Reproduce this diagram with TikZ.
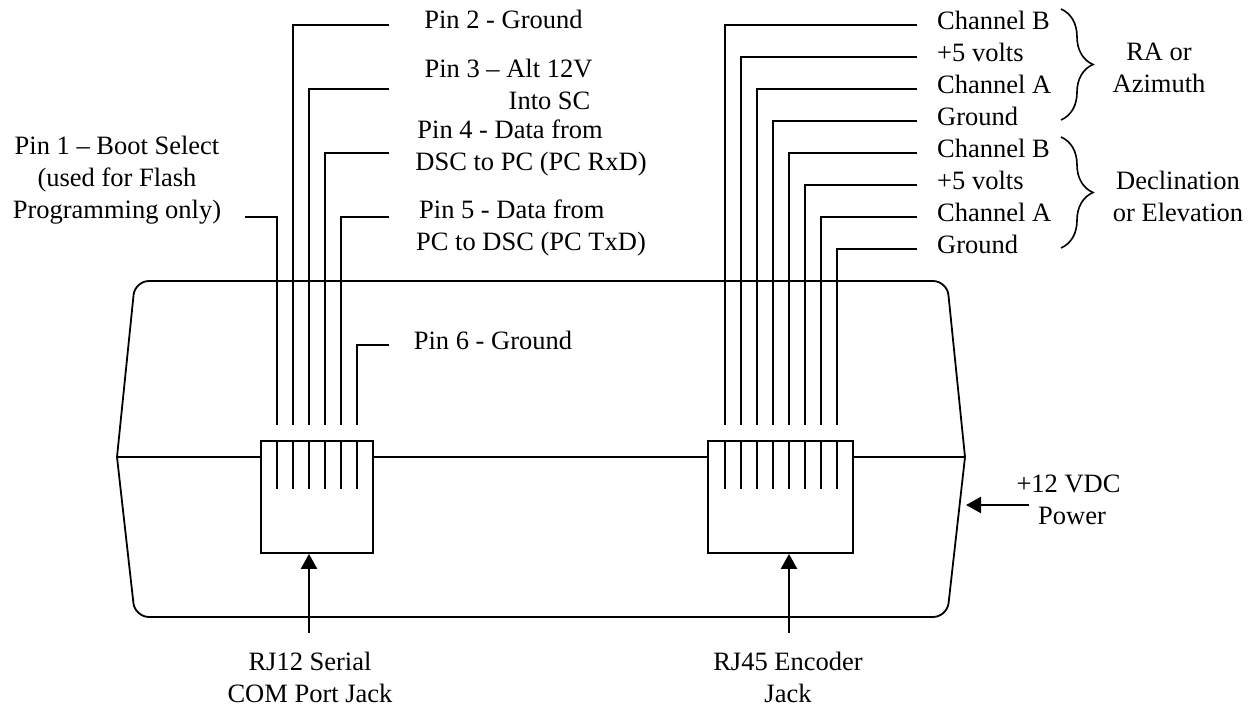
\documentclass[tikz,border=0pt]{standalone}
\usepackage{fontspec}
\setmainfont{Liberation Serif}
\usetikzlibrary{positioning, arrows.meta, decorations.pathreplacing}
\tikzset{
  pinlabel/.style={
    inner sep=0pt,
    font=\fontsize{26.5}{32}\selectfont
  },
  jack/.style={
    draw,
    rectangle,
    line width=1.8pt,
    minimum height=112pt,
    inner sep=0pt
  },
  wire/.style={
    line width=1.8pt
  },
  pointer/.style={
    line width=2.4pt,
    -{Triangle[length=15pt,width=16pt]}
  },
  curly/.style={
    line width=1.6pt,
    decorate,
    decoration={brace,amplitude=32pt}
  }
}

\begin{document}
\begin{tikzpicture}[x=1pt, y=-1pt]
    \useasboundingbox (0,0) rectangle (1249,707);

    % housing
    \coordinate (bodyleft) at (117,457);
    \coordinate (bodyright) at (965,457);
    \draw[wire] (bodyleft) [rounded corners=14pt] -- (135,281) -- (947,281) [sharp corners] -- (bodyright) [rounded corners=14pt] -- (947,617) -- (135,617) [sharp corners] -- (bodyleft);

    % jacks
    \node[jack, minimum width=112pt] (rjtwelve) at (317,497) {};
    \node[jack, minimum width=145pt] (rjfortyfive) at (780.5,497) {};
    \draw[wire] (bodyleft) -- (bodyleft -| rjtwelve.west);
    \draw[wire] (rjtwelve.east |- bodyleft) -- (bodyleft -| rjfortyfive.west);
    \draw[wire] (rjfortyfive.east |- bodyleft) -- (bodyright);

    % contacts of the RJ12 jack
    \coordinate (pa) at (277,489);
    \coordinate (pb) at (293,489);
    \coordinate (pc) at (309,489);
    \coordinate (pd) at (325,489);
    \coordinate (pe) at (341,489);
    \coordinate (pf) at (357,489);
    \draw[wire] (pa) -- (pa |- rjtwelve.north);
    \draw[wire] (pb) -- (pb |- rjtwelve.north);
    \draw[wire] (pc) -- (pc |- rjtwelve.north);
    \draw[wire] (pd) -- (pd |- rjtwelve.north);
    \draw[wire] (pe) -- (pe |- rjtwelve.north);
    \draw[wire] (pf) -- (pf |- rjtwelve.north);

    % contacts of the RJ45 jack
    \coordinate (qa) at (725,489);
    \coordinate (qb) at (741,489);
    \coordinate (qc) at (757,489);
    \coordinate (qd) at (773,489);
    \coordinate (qe) at (789,489);
    \coordinate (qf) at (805,489);
    \coordinate (qg) at (821,489);
    \coordinate (qh) at (837,489);
    \draw[wire] (qa) -- (qa |- rjfortyfive.north);
    \draw[wire] (qb) -- (qb |- rjfortyfive.north);
    \draw[wire] (qc) -- (qc |- rjfortyfive.north);
    \draw[wire] (qd) -- (qd |- rjfortyfive.north);
    \draw[wire] (qe) -- (qe |- rjfortyfive.north);
    \draw[wire] (qf) -- (qf |- rjfortyfive.north);
    \draw[wire] (qg) -- (qg |- rjfortyfive.north);
    \draw[wire] (qh) -- (qh |- rjfortyfive.north);

    % RJ12 labels
    \node[pinlabel, align=center] (pinone) at (117,180) {Pin 1 -- Boot Select\\(used for Flash\\Programming only)};
    \node[pinlabel] (pintwo) at (503.5,19) {Pin 2 - Ground};
    \node[pinlabel, align=right] (pinthree) at (508.5,84.5) {Pin 3 -- Alt 12V\\Into SC\hspace*{2pt}};
    \node[pinlabel, align=left] (pinfour) at (531,148) {\hspace*{2pt}Pin 4 - Data from\\DSC to PC (PC RxD)};
    \node[pinlabel, align=left] (pinfive) at (531,228) {\hspace*{3pt}Pin 5 - Data from\\PC to DSC (PC TxD)};
    \node[pinlabel] (pinsix) at (493,340) {Pin 6 - Ground};

    \coordinate (wa) at (245,217);
    \coordinate (wb) at (389,25);
    \coordinate (wc) at (389,89);
    \coordinate (wd) at (389,153);
    \coordinate (we) at (389,217);
    \coordinate (wf) at (389,345);
    \draw[wire] (wa) -| (277,425);
    \draw[wire] (wb) -| (293,425);
    \draw[wire] (wc) -| (309,425);
    \draw[wire] (wd) -| (325,425);
    \draw[wire] (we) -| (341,425);
    \draw[wire] (wf) -| (357,425);

    % RJ45 labels
    \node[pinlabel, anchor=west] (rachb) at (937,20) {Channel B};
    \node[pinlabel, anchor=west] (rafive) at (937,52) {+5 volts};
    \node[pinlabel, anchor=west] (racha) at (937,84) {Channel A};
    \node[pinlabel, anchor=west] (ragnd) at (937,116) {Ground};
    \node[pinlabel, anchor=west] (decchb) at (937,148) {Channel B};
    \node[pinlabel, anchor=west] (decfive) at (937,180) {+5 volts};
    \node[pinlabel, anchor=west] (deccha) at (937,212) {Channel A};
    \node[pinlabel, anchor=west] (decgnd) at (937,244) {Ground};

    \coordinate (xa) at (917,25);
    \coordinate (xb) at (917,57);
    \coordinate (xc) at (917,89);
    \coordinate (xd) at (917,121);
    \coordinate (xe) at (917,153);
    \coordinate (xf) at (917,185);
    \coordinate (xg) at (917,217);
    \coordinate (xh) at (917,249);
    \draw[wire] (xa) -| (725,425);
    \draw[wire] (xb) -| (741,425);
    \draw[wire] (xc) -| (757,425);
    \draw[wire] (xd) -| (773,425);
    \draw[wire] (xe) -| (789,425);
    \draw[wire] (xf) -| (805,425);
    \draw[wire] (xg) -| (821,425);
    \draw[wire] (xh) -| (837,425);

    % braces and axis names
    \coordinate (ratop) at (1061,9);
    \coordinate (rabot) at (1061,120);
    \coordinate (dectop) at (1061,137);
    \coordinate (decbot) at (1061,248);
    \draw[curly] (ratop) -- (rabot);
    \draw[curly] (dectop) -- (decbot);
    \node[pinlabel, align=center] (raname) at (1159,68) {RA or\\Azimuth};
    \node[pinlabel, align=center] (decname) at (1178,196) {Declination\\or Elevation};

    % arrows
    \node[pinlabel, align=center] (rjtwelvename) at (310,677) {RJ12 Serial\\COM Port Jack};
    \node[pinlabel, align=center] (rjfortyfivename) at (788,677) {RJ45 Encoder\\Jack};
    \node[pinlabel, align=center] (powername) at (1068.5,500) {+12 VDC\\\hspace*{7pt}Power};
    \coordinate (rjtwelvetail) at (309,633);
    \coordinate (rjfortyfivetail) at (789,633);
    \coordinate (powertail) at (1029,505);
    \coordinate (powerhead) at (966,505);
    \draw[pointer] (rjtwelvetail) -- (rjtwelvetail |- rjtwelve.south);
    \draw[pointer] (rjfortyfivetail) -- (rjfortyfivetail |- rjfortyfive.south);
    \draw[pointer] (powertail) -- (powerhead);
\end{tikzpicture}
\end{document}
